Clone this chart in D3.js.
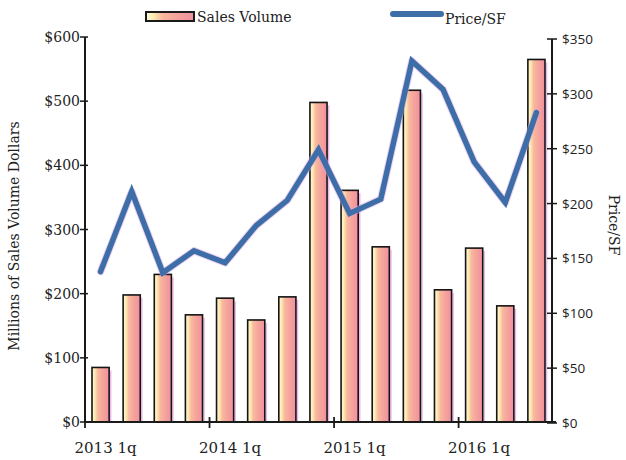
<!DOCTYPE html>
<html><head><meta charset="utf-8">
<script src="https://cdn.jsdelivr.net/npm/d3@7"></script>
<style>
html,body{margin:0;padding:0;background:#fff;}
svg{display:block;}
</style></head>
<body>
<svg id="chart" width="626" height="460"></svg>
<script>
const quarters = ["2013 1q","2013 2q","2013 3q","2013 4q","2014 1q","2014 2q","2014 3q","2014 4q","2015 1q","2015 2q","2015 3q","2015 4q","2016 1q","2016 2q","2016 3q"];
const salesVolume = [85, 198, 230, 167, 193, 159, 195, 498, 361, 273, 517, 206, 271, 181, 565];
const pricePerSF = [138, 211, 137, 157, 146, 180, 203, 249, 191, 204, 330, 304, 238, 201, 283];
const leftTicks = [0, 100, 200, 300, 400, 500, 600];
const rightTicks = [0, 50, 100, 150, 200, 250, 300, 350];
const xTickLabels = ["2013 1q","2014 1q","2015 1q","2016 1q"];

(function(){
const svg = d3.select("#chart");
const serif = "'DejaVu Serif', serif";
const sans = "'Open Sans', sans-serif";
const ink = "#1a1a1a";

const pl = 85, pr = 552, pt = 37, pb = 422;

const x = d3.scaleBand().domain(quarters).range([pl, pr]).paddingInner(0.45).paddingOuter(0.225);
const yL = d3.scaleLinear().domain([0, 600]).range([pb, pt]);
const yR = d3.scaleLinear().domain([0, 350]).range([pb + 1, pt + 2]);

const defs = svg.append("defs");
const g = defs.append("linearGradient").attr("id","barGrad").attr("x1","0").attr("x2","1").attr("y1","0").attr("y2","0");
[["0%","#fffbdc"],["16%","#fdeab0"],["34%","#f8b99e"],["65%","#f5a29c"],["100%","#f0909e"]]
  .forEach(([o,c]) => g.append("stop").attr("offset",o).attr("stop-color",c));

const bw = x.bandwidth();
svg.append("g").selectAll("line").data(quarters).join("line")
  .attr("x1", d => x(d) + bw + 1.6).attr("x2", d => x(d) + bw + 1.6)
  .attr("y1", (d,i) => yL(salesVolume[i]) + 3).attr("y2", pb)
  .attr("stroke", "#e07adf").attr("stroke-width", 1.4).attr("opacity", 0.55);
svg.append("g").selectAll("rect").data(quarters).join("rect")
  .attr("x", d => x(d)).attr("width", bw)
  .attr("y", (d,i) => yL(salesVolume[i]))
  .attr("height", (d,i) => pb - yL(salesVolume[i]))
  .attr("fill", "url(#barGrad)").attr("stroke", "#141414").attr("stroke-width", 1.6);

const line = d3.line().x((d,i) => x(quarters[i]) + bw/2).y(d => yR(d));
svg.append("path").datum(pricePerSF).attr("d", line)
  .attr("fill","none").attr("stroke","#d9a6e6").attr("stroke-width",7.5)
  .attr("stroke-linejoin","round").attr("stroke-linecap","round").attr("opacity",0.5);
svg.append("path").datum(pricePerSF).attr("d", line)
  .attr("fill","none").attr("stroke","#3d6ea8").attr("stroke-width",5.5)
  .attr("stroke-linejoin","miter").attr("stroke-linecap","round");

const axL = svg.append("g");
axL.append("line").attr("x1",pl).attr("x2",pl).attr("y1",pt).attr("y2",pb)
  .attr("stroke",ink).attr("stroke-width",2);
axL.selectAll("line.t").data(leftTicks).join("line").attr("class","t")
  .attr("x1",pl-5).attr("x2",pl+3).attr("y1",d=>yL(d)).attr("y2",d=>yL(d))
  .attr("stroke",ink).attr("stroke-width",1.5);
axL.selectAll("text").data(leftTicks).join("text")
  .attr("x",pl-5).attr("y",d=>yL(d)+5).attr("text-anchor","end")
  .attr("font-family",serif).attr("font-size",14).attr("fill","#222")
  .text(d=>"$"+d);

const axR = svg.append("g");
axR.append("line").attr("x1",pr).attr("x2",pr).attr("y1",yR(350)).attr("y2",yR(0))
  .attr("stroke",ink).attr("stroke-width",2);
axR.selectAll("line.t").data(rightTicks).join("line").attr("class","t")
  .attr("x1",pr-5).attr("x2",pr+5).attr("y1",d=>yR(d)).attr("y2",d=>yR(d))
  .attr("stroke",ink).attr("stroke-width",1.5);
axR.selectAll("text").data(rightTicks).join("text")
  .attr("x",pr+10).attr("y",d=>yR(d)+5).attr("text-anchor","start")
  .attr("font-family",sans).attr("font-size",13.5).attr("fill","#222")
  .text(d=>"$"+d);

const axX = svg.append("g");
axX.append("line").attr("x1",pl).attr("x2",pr+4).attr("y1",pb).attr("y2",pb)
  .attr("stroke",ink).attr("stroke-width",2);
const gap = x.step() - bw;
axX.selectAll("line.t").data(xTickLabels).join("line").attr("class","t")
  .attr("x1",d=>x(d)-gap/2).attr("x2",d=>x(d)-gap/2)
  .attr("y1",pb-5).attr("y2",pb+6)
  .attr("stroke",ink).attr("stroke-width",1.8);
axX.selectAll("text").data(xTickLabels).join("text")
  .attr("x",d=>x(d)+bw/2+5).attr("y",pb+31).attr("text-anchor","middle")
  .attr("font-family",serif).attr("font-size",15).attr("fill","#222")
  .text(d=>d);

svg.append("text").attr("transform","translate(19,236) rotate(-90)")
  .attr("text-anchor","middle").attr("font-family",serif).attr("font-size",14).attr("fill","#222")
  .text("Millions of Sales Volume Dollars");
svg.append("text").attr("transform","translate(609,225) rotate(90)")
  .attr("text-anchor","middle").attr("font-family",serif).attr("font-size",14).attr("fill","#222")
  .text("Price/SF");

const lg = svg.append("g");
lg.append("rect").attr("x",146).attr("y",12).attr("width",48).attr("height",9)
  .attr("fill","url(#barGrad)").attr("stroke",ink).attr("stroke-width",2);
lg.append("text").attr("x",197).attr("y",22).attr("font-family",serif).attr("font-size",14)
  .attr("fill","#222").text("Sales Volume");
lg.append("line").attr("x1",393).attr("x2",441).attr("y1",14).attr("y2",14)
  .attr("stroke","#3d6ea8").attr("stroke-width",6).attr("stroke-linecap","round");
lg.append("text").attr("x",445).attr("y",24).attr("font-family",serif).attr("font-size",14)
  .attr("fill","#222").text("Price/SF");
})();
</script>
</body></html>
